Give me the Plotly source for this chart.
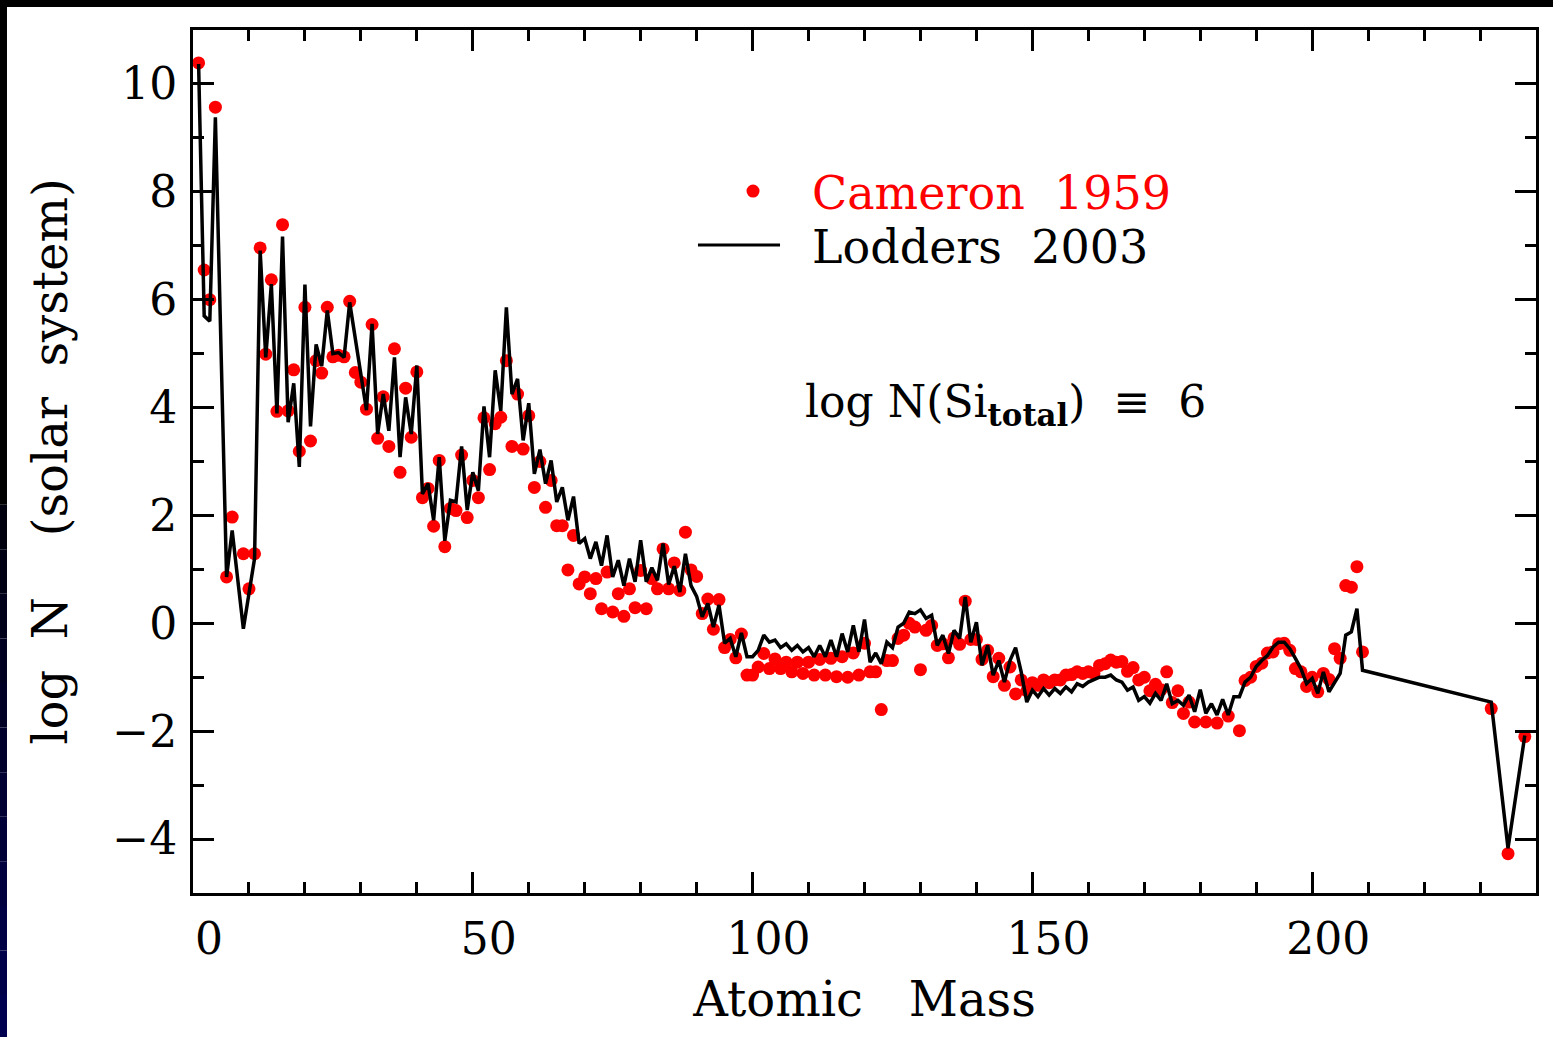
import plotly.graph_objects as go

# Cameron (1959) abundances, log N with log N(Si) = 6
cam_mass = [1, 2, 3, 4, 6, 7, 9, 10, 11, 12, 13, 14, 15, 16, 17, 18, 19, 20,
            21, 22, 23, 24, 25, 26, 27, 28, 29, 30, 31, 32, 33, 34, 35, 36, 37, 38,
            39, 40, 41, 42, 43, 44, 45, 46, 47, 48, 49, 50, 51, 52, 53, 54, 55, 56,
            57, 58, 59, 60, 61, 62, 63, 64, 65, 66, 67, 68, 69, 70, 71, 72, 73, 74,
            75, 76, 77, 78, 79, 80, 81, 82, 83, 84, 85, 86, 87, 88, 89, 90, 91, 92,
            93, 94, 95, 96, 97, 98, 99, 100, 101, 102, 103, 104, 105, 106, 107, 108,
            109, 110, 111, 112, 113, 114, 115, 116, 117, 118, 119, 120, 121, 122,
            123, 124, 125, 126, 127, 128, 129, 130, 131, 132, 133, 134, 135, 136,
            137, 138, 139, 140, 141, 142, 143, 144, 145, 146, 147, 148, 149, 150,
            151, 152, 153, 154, 155, 156, 157, 158, 159, 160, 161, 162, 163, 164,
            165, 166, 167, 168, 169, 170, 171, 172, 173, 174, 175, 176, 177, 178,
            179, 181, 183, 185, 187, 188, 189, 190, 191, 192, 193, 194, 195, 196,
            197, 198, 199, 200, 201, 202, 203, 204, 205, 206, 207, 208, 209,
            232, 235, 238]
cam_logn = [10.39, 6.55, 6.00, 9.57, 0.86, 1.97, 1.29, 0.64, 1.29, 6.96, 4.99, 6.37,
            3.93, 7.39, 3.94, 4.70, 3.19, 5.86, 3.38, 4.87, 4.64, 5.86, 4.94, 4.97,
            4.94, 5.97, 4.65, 4.47, 3.97, 5.54, 3.43, 4.20, 3.28, 5.09, 2.80, 4.36,
            3.45, 4.66, 2.33, 2.50, 1.80, 3.02, 1.42, 2.13, 2.09, 3.12, 1.96, 2.65,
            2.33, 3.81, 2.85, 3.70, 3.82, 4.87, 3.28, 4.25, 3.23, 3.85, 2.52, 3.00,
            2.15, 2.65, 1.81, 1.81, 0.99, 1.63, 0.73, 0.86, 0.55, 0.83, 0.27, 0.95,
            0.21, 0.55, 0.13, 0.64, 0.29, 0.98, 0.27, 0.83, 0.64, 1.38, 0.64, 1.12,
            0.61, 1.69, 0.99, 0.87, 0.18, 0.45, -0.11, 0.44, -0.45, -0.30, -0.64,
            -0.20, -0.96, -0.96, -0.81, -0.56, -0.84, -0.66, -0.84, -0.72, -0.90,
            -0.72, -0.93, -0.72, -0.96, -0.67, -0.96, -0.65, -0.99, -0.62, -1.00,
            -0.55, -0.96, -0.37, -0.90, -0.90, -1.60, -0.69, -0.69, -0.28, -0.22,
            0.00, -0.07, -0.86, -0.13, -0.04, -0.41, -0.38, -0.64, -0.27, -0.39,
            0.41, -0.30, -0.30, -0.67, -0.50, -0.99, -0.65, -1.15, -0.81, -1.31,
            -1.05, -1.25, -1.10, -1.15, -1.05, -1.10, -1.05, -1.05, -0.96, -0.95,
            -0.90, -0.93, -0.90, -0.93, -0.78, -0.75, -0.68, -0.72, -0.71, -0.89,
            -0.82, -1.05, -1.00, -1.25, -1.13, -1.23, -0.90, -1.47, -1.25, -1.67,
            -1.46, -1.83, -1.83, -1.85, -1.72, -1.99, -1.06, -1.00, -0.80, -0.74,
            -0.55, -0.53, -0.38, -0.37, -0.50, -0.84, -0.90, -1.17, -1.00, -1.27,
            -0.93, -1.04, -0.47, -0.65, 0.70, 0.67, 1.05, -0.53,
            -1.58, -4.27, -2.10]

# Lodders (2003) abundances by mass number
lod_mass = [1, 2, 3, 4, 6, 7, 9, 10, 11, 12, 13, 14, 15, 16, 17, 18, 19, 20,
            21, 22, 23, 24, 25, 26, 27, 28, 29, 30, 31, 32, 33, 34, 35, 36, 37, 38,
            39, 40, 41, 42, 43, 44, 45, 46, 47, 48, 49, 50, 51, 52, 53, 54, 55, 56,
            57, 58, 59, 60, 61, 62, 63, 64, 65, 66, 67, 68, 69, 70, 71, 72, 73, 74,
            75, 76, 77, 78, 79, 80, 81, 82, 83, 84, 85, 86, 87, 88, 89, 90, 91, 92,
            93, 94, 95, 96, 97, 98, 99, 100, 101, 102, 103, 104, 105, 106, 107, 108,
            109, 110, 111, 112, 113, 114, 115, 116, 117, 118, 119, 120, 121, 122,
            123, 124, 125, 126, 127, 128, 129, 130, 131, 132, 133, 134, 135, 136,
            137, 138, 139, 140, 141, 142, 143, 144, 145, 146, 147, 148, 149, 150,
            151, 152, 153, 154, 155, 156, 157, 158, 159, 160, 161, 162, 163, 164,
            165, 166, 167, 168, 169, 170, 171, 172, 173, 174, 175, 176, 177, 178,
            179, 180, 181, 182, 183, 184, 185, 186, 187, 188, 189, 190, 191, 192,
            193, 194, 195, 196, 197, 198, 199, 200, 201, 202, 203, 204, 205, 206,
            207, 208, 209, 232, 235, 238]
lod_logn = [10.37, 5.70, 5.60, 9.38, 0.86, 1.72, -0.10, 0.56, 1.20, 6.91, 4.93, 6.29,
            3.89, 7.17, 3.73, 4.45, 2.90, 6.28, 3.65, 5.17, 4.77, 5.80, 5.00, 5.02,
            4.93, 5.95, 5.30, 4.60, 3.95, 5.55, 3.51, 4.25, 3.57, 4.93, 3.08, 4.19,
            3.51, 4.78, 2.40, 2.59, 1.91, 3.08, 1.53, 2.28, 2.25, 3.28, 2.10, 2.80,
            2.46, 4.02, 3.08, 4.69, 3.94, 5.86, 4.25, 4.53, 3.39, 4.08, 2.77, 3.22,
            2.59, 3.02, 2.25, 2.52, 1.91, 2.35, 1.48, 1.57, 1.20, 1.51, 1.07, 1.63,
            0.86, 1.17, 0.70, 1.20, 0.77, 1.54, 0.77, 1.03, 0.80, 1.48, 0.72, 1.06,
            0.58, 1.29, 0.70, 0.50, 0.12, 0.37, -0.07, 0.34, -0.37, -0.28, -0.62,
            -0.18, -0.62, -0.62, -0.50, -0.22, -0.35, -0.31, -0.45, -0.38, -0.50,
            -0.41, -0.53, -0.45, -0.62, -0.41, -0.62, -0.31, -0.62, -0.19, -0.53,
            -0.04, -0.53, 0.07, -0.72, -0.55, -0.75, -0.35, -0.45, -0.07, 0.00,
            0.21, 0.18, 0.25, 0.09, 0.15, -0.41, -0.22, -0.56, -0.13, -0.28, 0.49,
            -0.35, 0.02, -0.78, -0.41, -0.96, -0.69, -1.09, -0.69, -0.45, -0.90,
            -1.46, -1.24, -1.36, -1.21, -1.33, -1.21, -1.30, -1.18, -1.27, -1.12,
            -1.17, -1.09, -1.05, -1.00, -1.00, -0.96, -1.05, -1.09, -1.24, -1.18,
            -1.43, -1.36, -1.48, -1.30, -1.43, -1.12, -1.49, -1.43, -1.52, -1.33,
            -1.64, -1.23, -1.67, -1.49, -1.70, -1.41, -1.70, -1.36, -1.36, -1.09,
            -1.00, -0.80, -0.69, -0.60, -0.44, -0.35, -0.35, -0.47, -0.65, -0.84,
            -1.12, -1.02, -1.30, -0.90, -1.27, -1.10, -0.93, -0.22, -0.16, 0.27,
            -0.87, -1.46, -4.17, -2.08]

x_ticks = [0, 50, 100, 150, 200]
y_ticks = [-4, -2, 0, 2, 4, 6, 8, 10]

FONT = "DejaVu Serif"
SIZE = 44
TITLE_SIZE = 48
NB = "\u00a0"

fig = go.Figure()
fig.add_trace(go.Scatter(
    x=cam_mass, y=cam_logn, mode="markers", name="Cameron 1959",
    marker=dict(color="#ff0000", size=13, line=dict(width=0)),
    showlegend=False, cliponaxis=False))
fig.add_trace(go.Scatter(
    x=lod_mass, y=lod_logn, mode="lines", name="Lodders 2003",
    line=dict(color="black", width=3.5), showlegend=False))

axis_style = dict(
    showline=True, linewidth=3, linecolor="black", mirror="ticks",
    ticks="inside", tickwidth=2.5, tickcolor="black",
    showgrid=False, zeroline=False, automargin=False,
    tickfont=dict(family=FONT, size=SIZE, color="black"),
)

fig.update_xaxes(
    **axis_style, range=[0, 240], tickmode="array", tickvals=x_ticks,
    ticklen=21, ticklabelshift=16, ticklabelstandoff=5,
    minor=dict(tickmode="linear", tick0=0, dtick=10, ticklen=11,
               tickwidth=2.5, tickcolor="black", ticks="inside"),
    title=dict(text="Atomic" + NB * 3 + "Mass",
               font=dict(family=FONT, size=TITLE_SIZE, color="black"), standoff=20),
)
fig.update_yaxes(
    **axis_style, range=[-5, 11], tickmode="array", tickvals=y_ticks,
    ticklen=21, ticklabelstandoff=4,
    minor=dict(tickmode="linear", tick0=0, dtick=1, ticklen=11,
               tickwidth=2.5, tickcolor="black", ticks="inside"),
    title=dict(text="log" + NB * 2 + "N" + NB * 4 + "(solar" + NB * 2 + "system)",
               font=dict(family=FONT, size=TITLE_SIZE, color="black"), standoff=30),
)

# hand-drawn legend
fig.add_shape(type="circle", xref="paper", yref="paper",
              xsizemode="pixel", ysizemode="pixel",
              xanchor=0.4170, yanchor=0.8134,
              x0=-6.5, x1=6.5, y0=-6.5, y1=6.5,
              fillcolor="#ff0000", line=dict(width=0))
fig.add_shape(type="line", xref="paper", yref="paper",
              x0=0.3760, x1=0.4371, y0=0.7509, y1=0.7509,
              line=dict(color="black", width=3))
fig.add_annotation(xref="paper", yref="paper", x=0.4594, y=0.8110,
                   xanchor="left", yanchor="middle", showarrow=False,
                   text="Cameron" + NB * 2 + "1959",
                   font=dict(family=FONT, size=46, color="#ff0000"))
fig.add_annotation(xref="paper", yref="paper", x=0.4594, y=0.7484,
                   xanchor="left", yanchor="middle", showarrow=False,
                   text="Lodders" + NB * 2 + "2003",
                   font=dict(family=FONT, size=46, color="black"))
fig.add_annotation(xref="paper", yref="paper", x=0.4542, y=0.5660,
                   xanchor="left", yanchor="middle", showarrow=False,
                   text="log" + NB + "N(Si<sub><b>total</b></sub>)" + NB * 2 + "\u2261" + NB * 2 + "6",
                   font=dict(family=FONT, size=SIZE, color="black"))

# dark slide edges (top and left)
fig.add_shape(type="rect", xref="paper", yref="paper", layer="below",
              x0=-0.2, x1=1.1, y0=1.0267, y1=1.06,
              fillcolor="black", line=dict(width=0))
fig.add_shape(type="rect", xref="paper", yref="paper", layer="below",
              x0=-0.2, x1=-0.1385, y0=0.45, y1=1.06,
              fillcolor="black", line=dict(width=0))
n_band = 12
for i in range(n_band):
    top = 0.45 - i * (0.62 / n_band)
    bot = top - 0.62 / n_band
    blue = int(8 + 72 * (i + 1) / n_band)
    fig.add_shape(type="rect", xref="paper", yref="paper", layer="below",
                  x0=-0.2, x1=-0.1385, y0=bot, y1=top,
                  fillcolor=f"rgb(0,0,{blue})", line=dict(width=0))

fig.update_layout(
    template="none",
    width=1553, height=1037,
    margin=dict(l=193, r=17, t=30, b=144),
    paper_bgcolor="white", plot_bgcolor="white",
    font=dict(family=FONT, size=SIZE, color="black"),
    showlegend=False,
)

fig.write_html("out.html")
